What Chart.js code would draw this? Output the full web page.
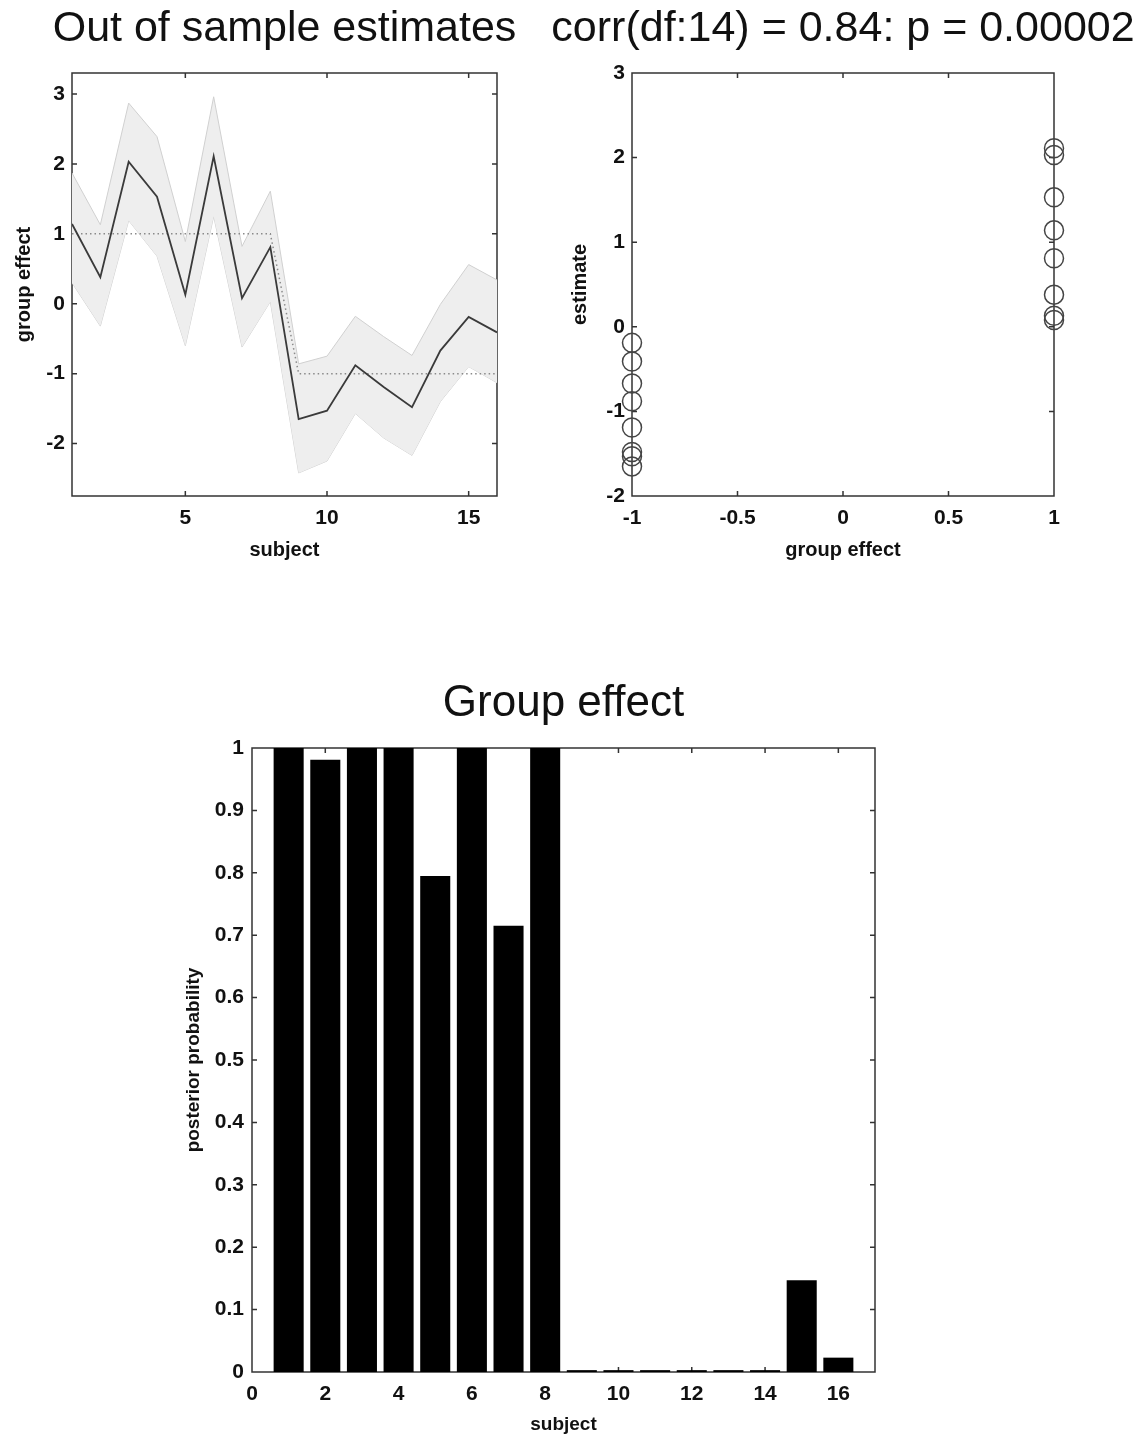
<!DOCTYPE html>
<html>
<head>
<meta charset="utf-8">
<script src="https://cdn.jsdelivr.net/npm/chart.js@4.4.1/dist/chart.umd.min.js"></script>
<style>
    body { margin: 0; background: #fff; overflow: hidden; }
    .panel { position: absolute; }
</style>
</head>
<body>
<div class="panel" style="left:0px;top:0px"><canvas id="estimate-chart" width="569" height="580"></canvas></div>
<div class="panel" style="left:548px;top:0px"><canvas id="corr-chart" width="590" height="580"></canvas></div>
<div class="panel" style="left:180px;top:650px"><canvas id="prob-chart" width="767" height="789"></canvas></div>
<script>
const subjects = [1, 2, 3, 4, 5, 6, 7, 8, 9, 10, 11, 12, 13, 14, 15, 16];
const estimate = [1.14, 0.38, 2.03, 1.53, 0.13, 2.11, 0.08, 0.81, -1.65, -1.53, -0.88, -1.19, -1.48, -0.67, -0.19, -0.41];
const upperBound = [1.87, 1.13, 2.87, 2.39, 0.89, 2.96, 0.82, 1.61, -0.86, -0.75, -0.18, -0.47, -0.74, -0.01, 0.56, 0.34];
const lowerBound = [0.30, -0.32, 1.19, 0.68, -0.60, 1.25, -0.62, 0.03, -2.42, -2.25, -1.57, -1.92, -2.17, -1.40, -0.90, -1.13];
const trueEffect = [1, 1, 1, 1, 1, 1, 1, 1, -1, -1, -1, -1, -1, -1, -1, -1];
const posteriorProb = [1, 0.981, 1, 1, 0.795, 1, 0.715, 1, 0.003, 0.003, 0.003, 0.003, 0.003, 0.003, 0.147, 0.023];

const estimateXTicks = [5, 10, 15];
const estimateYTicks = [-2, -1, 0, 1, 2, 3];
const corrXTicks = [-1, -0.5, 0, 0.5, 1];
const corrYTicks = [-2, -1, 0, 1, 2, 3];
const probXTicks = [0, 2, 4, 6, 8, 10, 12, 14, 16];
const probYTicks = [0, 0.1, 0.2, 0.3, 0.4, 0.5, 0.6, 0.7, 0.8, 0.9, 1];

const leftTitle = 'Out of sample estimates';
const rightTitle = 'corr(df:14) = 0.84: p = 0.00002';
const bottomTitle = 'Group effect';

Chart.defaults.font.family = "'Liberation Sans', Arial, sans-serif";
Chart.defaults.color = '#111';

function points(xs, ys) {
    return xs.map((x, i) => ({x: x, y: ys[i]}));
}

// matlab style: closed box with short ticks pointing inwards on all four sides
const boxAxes = {
    id: 'boxAxes',
    beforeDatasetsDraw(chart) {
        const {ctx, chartArea: a, scales: {x, y}} = chart;
        const len = 5;
        ctx.save();
        ctx.strokeStyle = '#333';
        ctx.lineWidth = 1.5;
        ctx.beginPath();
        x.ticks.forEach(t => {
            const px = x.getPixelForValue(t.value);
            ctx.moveTo(px, a.bottom); ctx.lineTo(px, a.bottom - len);
            ctx.moveTo(px, a.top); ctx.lineTo(px, a.top + len);
        });
        y.ticks.forEach(t => {
            const py = y.getPixelForValue(t.value);
            ctx.moveTo(a.left, py); ctx.lineTo(a.left + len, py);
            ctx.moveTo(a.right, py); ctx.lineTo(a.right - len, py);
        });
        ctx.rect(a.left, a.top, a.right - a.left, a.bottom - a.top);
        ctx.stroke();
        ctx.restore();
    }
};

function makeScale(o) {
    return {
        type: 'linear',
        position: o.position,
        min: o.min,
        max: o.max,
        offset: false,
        grid: {display: false, drawTicks: false, offset: false},
        border: {display: false},
        afterBuildTicks: scale => {
            scale.ticks = o.ticks.map(v => ({value: v}));
        },
        afterFit: scale => {
            if (scale.isHorizontal()) scale.height = o.size;
            else scale.width = o.size;
        },
        ticks: {
            padding: o.pad,
            autoSkip: false,
            maxRotation: 0,
            color: '#111',
            font: {size: 21, weight: 'bold'},
            callback: v => String(v)
        },
        title: {
            display: true,
            text: o.title,
            color: '#111',
            font: {size: o.titleSize || 20, weight: 'bold'},
            padding: o.titlePad
        }
    };
}

// empty right axis, only reserves room so the chart title stays centred on the canvas
function spacer(width) {
    return {
        position: 'right',
        display: true,
        grid: {display: false, drawTicks: false},
        border: {display: false},
        ticks: {display: false},
        afterFit: scale => { scale.width = width; }
    };
}

function baseOptions(title, size, pad) {
    return {
        responsive: false,
        animation: false,
        events: [],
        plugins: {
            legend: {display: false},
            tooltip: {enabled: false},
            title: {
                display: true,
                text: title,
                color: '#111',
                font: {size: size, weight: 'normal', lineHeight: 1},
                padding: pad
            }
        }
    };
}

const estimateOptions = baseOptions(leftTitle, 43, {top: 8, bottom: 22});
estimateOptions.scales = {
    x: makeScale({position: 'bottom', min: 1, max: 16, ticks: estimateXTicks, size: 84, pad: 10,
        title: 'subject', titlePad: {top: 0, bottom: 18}}),
    y: makeScale({position: 'left', min: -2.75, max: 3.3, ticks: estimateYTicks, size: 72, pad: 7,
        title: 'group effect', titlePad: {top: 12, bottom: 0}}),
    yr: spacer(72)
};

new Chart(document.getElementById('estimate-chart'), {
    type: 'line',
    data: {
        datasets: [{
            data: points(subjects, estimate),
            borderColor: '#3a3a3a',
            borderWidth: 1.8,
            pointRadius: 0,
            fill: false
        }, {
            data: points(subjects, trueEffect),
            borderColor: '#8a8a8a',
            borderWidth: 1.5,
            borderDash: [1.5, 3],
            pointRadius: 0,
            fill: false
        }, {
            data: points(subjects, upperBound),
            borderColor: '#d0d0d0',
            borderWidth: 1,
            backgroundColor: '#eeeeee',
            pointRadius: 0,
            fill: '+1'
        }, {
            data: points(subjects, lowerBound),
            borderColor: '#d0d0d0',
            borderWidth: 1,
            pointRadius: 0,
            fill: false
        }]
    },
    options: estimateOptions,
    plugins: [boxAxes]
});

const corrOptions = baseOptions(rightTitle, 43, {top: 8, bottom: 22});
corrOptions.scales = {
    x: makeScale({position: 'bottom', min: -1, max: 1, ticks: corrXTicks, size: 84, pad: 10,
        title: 'group effect', titlePad: {top: 0, bottom: 18}}),
    y: makeScale({position: 'left', min: -2, max: 3, ticks: corrYTicks, size: 84, pad: 7,
        title: 'estimate', titlePad: {top: 20, bottom: 0}}),
    yr: spacer(84)
};

new Chart(document.getElementById('corr-chart'), {
    type: 'scatter',
    data: {
        datasets: [{
            data: points(trueEffect, estimate),
            pointRadius: 9.5,
            pointStyle: 'circle',
            borderColor: '#444',
            borderWidth: 1.5,
            backgroundColor: 'rgba(0,0,0,0)',
            clip: false
        }]
    },
    options: corrOptions,
    plugins: [boxAxes]
});

const probOptions = baseOptions(bottomTitle, 44, {top: 32, bottom: 22});
probOptions.scales = {
    x: makeScale({position: 'bottom', min: 0, max: 17, ticks: probXTicks, size: 67, pad: 10,
        title: 'subject', titleSize: 19, titlePad: {top: 0, bottom: 3}}),
    y: makeScale({position: 'left', min: 0, max: 1, ticks: probYTicks, size: 72, pad: 8,
        title: 'posterior probability', titleSize: 19, titlePad: {top: 2, bottom: 0}}),
    yr: spacer(72)
};

new Chart(document.getElementById('prob-chart'), {
    type: 'bar',
    data: {
        datasets: [{
            data: points(subjects, posteriorProb),
            backgroundColor: '#000',
            borderWidth: 0,
            barPercentage: 0.82,
            categoryPercentage: 1
        }]
    },
    options: probOptions,
    plugins: [boxAxes]
});
</script>
</body>
</html>
